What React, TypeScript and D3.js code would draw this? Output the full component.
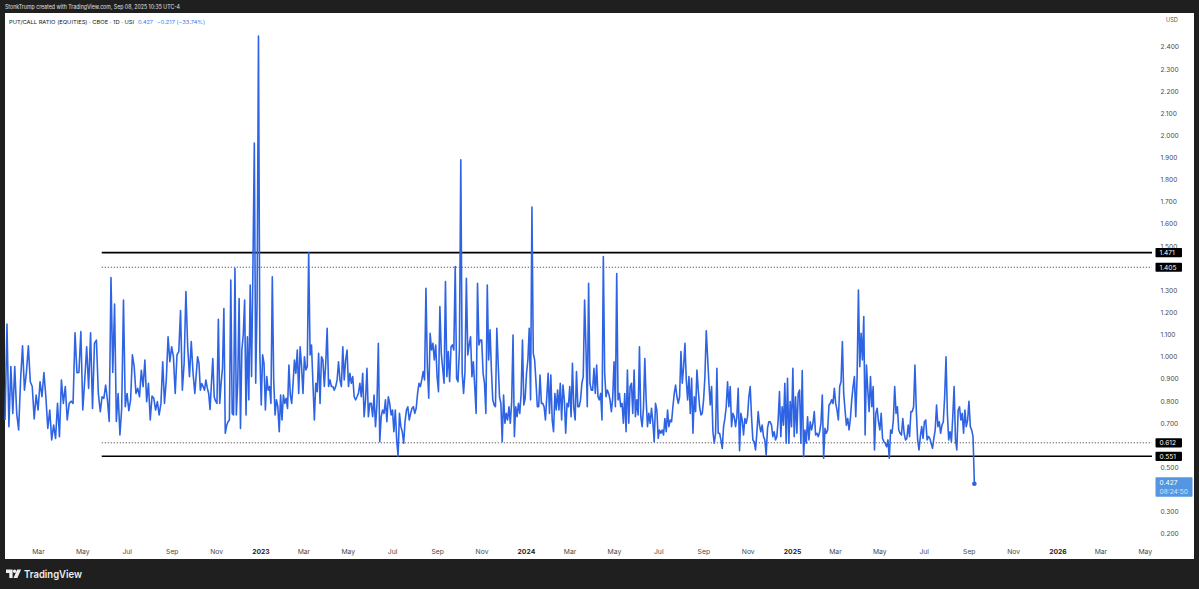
import React from 'react';
import * as d3 from 'd3';

// ---------- DATA ----------
// Put/Call ratio readings, grouped in consecutive date segments (evenly spaced inside each)
const seg2022a = [0.715, 1.148, 0.685, 0.956, 0.745, 0.956, 0.745, 0.67, 0.896, 1.05, 0.85, 0.93, 1.05, 0.888, 0.866, 0.72, 0.828, 0.76, 0.888, 0.82, 0.929, 0.82, 0.677, 0.76, 0.625, 0.692, 0.632, 0.79, 0.64, 0.896, 0.79, 0.866, 0.715, 0.79, 0.8, 0.79, 1.109, 0.929, 0.93, 1.114, 0.76, 0.896, 1.046, 0.858, 1.109, 0.767, 1.061, 1.076, 0.835];
const seg2022b = [0.753, 0.82, 0.813, 0.873, 0.806, 0.708, 1.359, 0.93, 1.239, 0.708, 0.835, 0.647, 0.767, 1.257, 0.775, 0.835, 0.757, 0.806, 1.009, 0.956, 0.835, 0.858, 0.82, 0.94, 0.866, 0.986, 0.798, 0.881, 0.715, 0.823, 0.813, 0.76, 0.798, 0.738, 0.79, 0.978, 0.79, 0.896, 1.091, 0.978, 1.046, 1.001, 0.835, 1.009, 1.024, 1.209, 0.85, 0.971, 1.295, 1.046, 0.911, 1.069, 0.926];
const seg2022c = [0.835, 0.92, 1.001, 0.971, 0.85, 0.88, 0.866, 0.85, 0.896, 0.86, 0.835, 0.763, 0.88, 0.993, 0.82, 0.8, 0.79, 1.17, 0.79, 0.881, 0.95, 1.219, 0.655, 0.69, 0.707, 0.715, 1.347, 0.745, 0.738, 1.4, 0.738, 0.881, 1.264, 0.677, 1.031, 1.1, 1.257, 0.738, 1.091, 0.806, 1.325, 0.911, 1.408, 1.966, 0.881, 1.25, 2.45, 1.016, 0.783, 1.009, 0.971, 0.76, 0.911, 0.85, 0.866, 0.79, 1.362, 0.896, 0.738, 0.806, 0.775, 0.662, 0.828, 0.715, 0.828, 0.79, 0.813, 0.767, 0.963, 0.828, 0.79, 0.881];
const seg2023a = [0.986, 0.926, 1.031, 0.835, 1.046, 0.956, 0.835, 1.001, 0.941, 0.956, 1.47, 1.009, 1.054, 0.881, 0.715, 0.881, 0.843, 1.016, 0.79, 1.001, 0.986, 0.866, 0.971, 1.129, 0.866, 0.896, 0.866, 0.866, 0.85, 0.866, 0.896, 0.978, 0.896, 0.866, 1.046, 0.896, 0.986, 1.031, 0.866, 0.926, 0.881, 0.911, 0.82, 0.806, 0.82, 0.835, 0.881, 0.82, 0.926, 0.73, 0.806, 0.948, 0.73, 0.79, 0.79, 0.73, 0.828, 0.685, 0.783, 1.061, 0.617, 0.73, 0.76, 0.745, 0.806, 0.707, 0.82];
const seg2023b = [0.79, 0.738, 0.76, 0.662, 0.76, 0.625, 0.552, 0.745, 0.685, 0.662, 0.61, 0.707, 0.76, 0.775, 0.715, 0.745, 0.768, 0.775, 0.745, 0.768, 0.835, 0.881, 0.866, 0.896, 0.934, 0.896, 1.31, 0.956, 0.813, 1.107, 1.031, 1.061, 0.986, 1.054, 0.911, 0.843, 1.227, 1.016, 0.948, 0.881, 1.34, 0.911, 1.024, 0.888, 1.046, 1.054, 1.031, 1.408, 0.903, 0.888, 1.031, 1.89, 0.926, 0.835, 0.934, 1.355, 1.009, 1.054, 1.091, 0.911, 0.978, 0.866, 0.745, 1.332, 1.054, 1.076, 1.076, 0.926, 0.881, 0.745, 1.325, 0.986];
const seg2023c = [1.122, 0.941, 0.806, 0.783, 0.775, 1.129, 0.971, 0.82, 0.79, 0.617, 0.828, 0.7, 0.745, 0.715, 0.775, 0.7, 0.798, 1.099, 0.64, 0.775, 0.73, 0.79, 0.745, 0.835, 1.076, 0.783, 0.813, 0.926, 0.986, 1.129, 0.806, 1.677, 1.016, 0.986, 0.888, 0.775, 0.775, 0.918, 0.79, 0.79, 0.775, 0.715, 0.82, 0.926, 0.745, 0.918, 0.715, 0.662, 0.835, 0.76, 0.85, 0.76, 0.881, 0.715, 0.873, 0.806, 0.655, 0.79, 0.775, 0.866, 0.73, 0.971, 0.768, 0.715, 0.934, 0.775, 0.775, 0.806, 0.881, 0.911];
const seg2024a = [1.257, 1.046, 0.775, 1.332, 0.881, 0.85, 0.85, 0.948, 0.835, 0.963, 0.82, 0.806, 0.835, 0.715, 1.453, 0.926, 0.82, 0.85, 0.835, 0.806, 0.753, 0.813, 0.978, 0.775, 1.377, 0.806, 0.835, 0.775, 0.79, 0.7, 0.835, 0.662, 0.941, 0.7, 0.866, 0.881, 0.745, 0.941, 0.73, 0.806, 0.738, 1.046, 0.73, 0.685, 0.768, 0.993, 0.806, 0.685, 0.745, 0.7, 0.768, 0.707, 0.617, 0.79, 0.76, 0.632, 0.67, 0.655, 0.67, 0.647, 0.722, 0.662, 0.76, 0.685, 0.715, 0.707, 0.775, 0.835, 0.873, 0.82, 0.79, 0.82, 1.024, 0.881, 0.956];
const seg2024b = [1.061, 0.896, 0.806, 0.911, 0.745, 0.903, 0.655, 0.82, 0.753, 0.941, 0.85, 0.775, 0.738, 0.745, 0.806, 0.911, 1.118, 1.001, 0.881, 0.783, 0.866, 0.662, 0.61, 0.655, 0.948, 0.655, 0.655, 0.625, 0.587, 0.685, 0.722, 0.775, 0.888, 0.775, 0.866, 0.685, 0.745, 0.73, 0.685, 0.73, 0.858, 0.576, 0.745, 0.715, 0.647, 0.722, 0.7, 0.73, 0.82, 0.866, 0.73, 0.625, 0.617, 0.58, 0.655, 0.753, 0.692, 0.662, 0.692, 0.64, 0.625, 0.557, 0.677, 0.707, 0.707, 0.692, 0.64, 0.662, 0.625, 0.64, 0.715];
const seg2025a = [0.843, 0.64, 0.775, 0.692, 0.881, 0.61, 0.903, 0.61, 0.798, 0.685, 0.948, 0.64, 0.82, 0.655, 0.835, 0.85, 0.61, 0.938, 0.549, 0.67, 0.61, 0.73, 0.625, 0.707, 0.67, 0.7, 0.753, 0.647, 0.655, 0.64, 0.662, 0.7, 0.828, 0.542, 0.677, 0.655, 0.67, 0.783, 0.79, 0.806, 0.79, 0.858, 0.79, 0.76, 0.715, 0.866, 0.888, 1.069, 0.835, 0.76, 0.692, 0.722, 0.67, 0.722, 0.806, 0.866, 0.911, 0.73, 0.911, 1.302, 0.956, 1.107, 0.986, 1.182, 0.647, 0.963, 0.85, 0.753, 0.911, 0.775, 0.866, 0.58, 0.745, 0.768, 0.707];
const seg2025b = [0.67, 0.745, 0.632, 0.617, 0.61, 0.594, 0.625, 0.542, 0.67, 0.655, 0.715, 0.866, 0.745, 0.775, 0.67, 0.655, 0.647, 0.722, 0.655, 0.625, 0.632, 0.692, 0.64, 0.753, 0.753, 0.775, 0.963, 0.76, 0.625, 0.58, 0.64, 0.685, 0.632, 0.707, 0.715, 0.625, 0.64, 0.632, 0.61, 0.587, 0.632, 0.67, 0.783, 0.685, 0.707, 0.655, 0.692, 0.707, 0.82, 1.001, 0.745, 0.625, 0.662, 0.617, 0.73, 0.866, 0.625, 0.58, 0.76, 0.775, 0.715, 0.745, 0.655, 0.76, 0.685, 0.715, 0.8, 0.685, 0.67, 0.64, 0.427];

const segmentStarts = ['2022-01-14', '2022-05-25', '2022-10-02', '2023-02-16', '2023-06-27', '2023-11-12', '2024-03-21', '2024-08-06', '2024-12-14', '2025-05-01'];
const lastDate = '2025-09-08';

// horizontal levels
const levelValues = [1.471, 1.405, 0.612, 0.551];
const levelLabels = ['1.471', '1.405', '0.612', '0.551'];
const levelStart = '2022-05-27';

const lastValueLabel = '0.427';
const countdownLabel = '08:24:50';
const changeLabel = '\u22120.217 (\u221233.74%)';
const titleLabel = 'PUT/CALL RATIO (EQUITIES) \u00b7 CBOE \u00b7 1D \u00b7 USI';
const headerLabel = 'StonkTrump created with TradingView.com, Sep 08, 2025 10:35 UTC-4';
const currencyLabel = 'USD';

// ---------- CHART ----------
const W = 1199;
const H = 589;
const FONT = 'Inter, "Noto Sans", Roboto, sans-serif';
const BLUE = '#2e64e4';

export default function App() {
  const parse = d3.timeParse('%Y-%m-%d');
  const x = d3.scaleTime()
    .domain([parse('2023-01-01')!, parse('2026-01-01')!])
    .range([261, 1058]);
  const y = d3.scaleLinear().domain([0.2, 2.4]).range([534, 47]);

  const segs = [seg2022a, seg2022b, seg2022c, seg2023a, seg2023b, seg2023c, seg2024a, seg2024b, seg2025a, seg2025b];
  const bounds = [...segmentStarts, lastDate].map((s) => +parse(s)!);
  const data: { d: Date; v: number }[] = [];
  segs.forEach((vals, k) => {
    const s = bounds[k];
    const e = bounds[k + 1];
    const last = k === segs.length - 1;
    const step = (e - s) / (last ? vals.length - 1 : vals.length);
    vals.forEach((v, i) => data.push({ d: new Date(s + i * step), v }));
  });

  const line = d3.line<{ d: Date; v: number }>()
    .x((p) => x(p.d))
    .y((p) => y(p.v));

  const plotRight = 1152;
  const months = d3.timeMonth.every(2)!
    .range(parse('2022-01-01')!, parse('2026-07-01')!)
    .filter((m) => x(m) > 15 && x(m) < plotRight);
  const lastPt = data[data.length - 1];
  const boxCenters = [...levelValues.map((v) => y(v)), y(lastPt.v) + 3.2];
  // price labels hidden behind the label boxes are not drawn (as in TradingView)
  const priceTicks = y.ticks(22).filter((t) => boxCenters.every((c, i) => Math.abs(y(t) - c) > (i === 4 ? 10 : 5)));
  const fmt = d3.format('.3f');
  const lvlX0 = x(parse(levelStart)!);

  return (
    <div style={{ position: 'absolute', left: 0, top: 0, width: W, height: H }}>
      <svg width={W} height={H} style={{ display: 'block' }}>
        <rect x={0} y={0} width={W} height={H} fill="#1f1f1f" />
        <text x={5} y={9.3} fill="#e0e0e0" fontFamily={FONT} fontSize={5.6} textLength={175} lengthAdjust="spacingAndGlyphs">{headerLabel}</text>
        <rect x={5} y={13} width={1189} height={546} fill="#ffffff" />

        {/* title */}
        <text x={9} y={23.8} fill="#131722" fontFamily={FONT} fontSize={5.4} textLength={125} lengthAdjust="spacingAndGlyphs">{titleLabel}</text>
        <text x={138} y={23.8} fill="#3b78e6" fontFamily={FONT} fontSize={5.4} textLength={15} lengthAdjust="spacingAndGlyphs">{lastValueLabel}</text>
        <text x={157} y={23.8} fill="#3b78e6" fontFamily={FONT} fontSize={5.4} textLength={48} lengthAdjust="spacingAndGlyphs">{changeLabel}</text>

        {/* level lines */}
        {levelValues.map((v, i) => (
          <line key={'l' + i} x1={lvlX0} x2={plotRight} y1={y(v)} y2={y(v)}
            stroke={i === 0 || i === 3 ? '#000000' : '#555555'}
            strokeWidth={i === 0 || i === 3 ? 1.6 : 1}
            strokeDasharray={i === 0 || i === 3 ? undefined : '1.2,1.8'} />
        ))}

        {/* series */}
        <path d={line(data) || ''} fill="none" stroke={BLUE} strokeWidth={1.6} strokeLinejoin="round" />
        <circle cx={x(lastPt.d)} cy={y(lastPt.v)} r={2.3} fill={BLUE} />

        {/* price axis */}
        <text x={1166} y={22} fill="#555" fontFamily={FONT} fontSize={5.6}>{currencyLabel}</text>
        {priceTicks.map((t) => (
          <text key={'p' + t} x={1160.5} y={y(t) + 2.4} fill="#4a4a4a" fontFamily={FONT} fontSize={6.6}>{fmt(t)}</text>
        ))}
        {levelValues.map((v, i) => (
          <g key={'b' + i}>
            <rect x={1155.5} y={y(v) - 4.6} width={26.5} height={9.2} fill="#000000" rx={0.8} />
            <text x={1159.5} y={y(v) + 2.4} fill="#ffffff" fontFamily={FONT} fontSize={6.6}>{levelLabels[i]}</text>
          </g>
        ))}
        <rect x={1155.5} y={y(lastPt.v) - 6.5} width={37} height={19.5} fill="#5596e2" rx={0.8} />
        <text x={1159.5} y={y(lastPt.v) + 1.6} fill="#ffffff" fontFamily={FONT} fontSize={6.6}>{lastValueLabel}</text>
        <text x={1159.5} y={y(lastPt.v) + 10} fill="#d5e5f8" fontFamily={FONT} fontSize={6.6}>{countdownLabel}</text>

        {/* time axis */}
        {months.map((m) => {
          const isYear = m.getMonth() === 0;
          return (
            <text key={+m} x={x(m)} y={553.5} textAnchor="middle" fill={isYear ? '#222' : '#4a4a4a'}
              fontFamily={FONT} fontSize={6.8} fontWeight={isYear ? 700 : 400}>
              {isYear ? d3.timeFormat('%Y')(m) : d3.timeFormat('%b')(m)}
            </text>
          );
        })}

        {/* TradingView logo */}
        <path d="M6,569.5 h6.6 v8.6 h-3.3 v-5.2 h-3.3 z" fill="#eeeeee" />
        <circle cx={14.6} cy={571.3} r={1.7} fill="#eeeeee" />
        <path d="M17.2,569.5 h3.9 l-3.7,8.6 h-3.9 z" fill="#eeeeee" />
        <text x={24} y={578} fill="#eeeeee" fontFamily={FONT} fontSize={10.5} fontWeight={600} textLength={58} lengthAdjust="spacingAndGlyphs">TradingView</text>
      </svg>
    </div>
  );
}
